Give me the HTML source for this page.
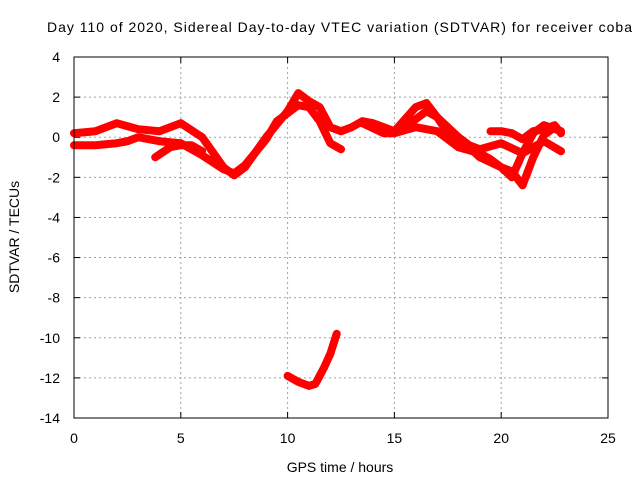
<!DOCTYPE html>
<html><head><meta charset="utf-8"><style>
body{margin:0;background:#fff;font-family:"Liberation Sans",sans-serif}
svg text{font-family:"Liberation Sans",sans-serif;font-size:14px;fill:#000}
</style></head><body>
<svg id="c" width="640" height="480">
<text x="47" y="32" textLength="585" lengthAdjust="spacing">Day 110 of 2020, Sidereal Day-to-day VTEC variation (SDTVAR) for receiver coba</text>
<text x="340" y="472" text-anchor="middle">GPS time / hours</text>
<text transform="translate(19,237) rotate(-90)" text-anchor="middle">SDTVAR / TECUs</text>
<g id="grid"></g><g id="marks"></g>
<rect x="74" y="57" width="534" height="361" fill="none" stroke="#000"/>
</svg>
<script>
const xTicks=[0,5,10,15,20,25];
const yTicks=[4,2,0,-2,-4,-6,-8,-10,-12,-14];
const seriesA=[[0,0.2],[1,0.3],[2,0.7],[3,0.4],[4,0.3],[5,0.7],[6,0],[7,-1.5],[7.5,-1.9],[8,-1.5],[9,0],[10,1.3],[10.5,2.2],[11,1.8],[11.5,1.5],[12,0.5],[12.5,0.3],[13,0.5],[13.5,0.8],[14,0.7],[15,0.3],[16,1.5],[16.5,1.7],[17,1.0],[18,0],[19,-1],[20,-1.5],[20.5,-2],[21,-0.8],[21.5,0.2],[22,0.6],[22.8,0.3]];
const seriesB=[[0,-0.4],[1,-0.4],[2,-0.3],[2.5,-0.2],[3,0],[4,-0.2],[5,-0.3],[5.5,-0.6],[6,-0.9],[7,-1.6],[7.5,-1.8],[8,-1.4],[9,-0.1],[9.5,0.8],[10,1.2],[10.5,1.6],[11,1.5],[11.5,0.8],[12,-0.3],[12.5,-0.6]];
const seriesC=[[3.8,-1],[4.5,-0.5],[5,-0.4],[5.5,-0.4],[6,-0.7]];
const seriesD=[[13.5,0.7],[14.5,0.2],[15,0.2],[16,0.5],[17,0.3],[18,-0.5],[19,-0.8],[19.5,-1.1],[20,-1.5],[20.5,-1.7],[21,-2.4],[21.5,-1],[22,0.1],[22.5,0.5]];
const seriesE=[[15,0.3],[16,0.9],[16.5,1.3],[17,1],[17.5,0.2],[18,0],[18.5,-0.4],[19,-0.6],[20,-0.3],[21,-0.8],[22,-0.2],[22.8,-0.7]];
const seriesF=[[19.5,0.3],[20,0.3],[20.5,0.2],[21,-0.1],[21.5,0.3],[22,0.4],[22.5,0.6],[22.8,0.2]];
const seriesG=[[10,-11.9],[10.5,-12.2],[11,-12.4],[11.3,-12.3],[11.7,-11.5],[12,-10.8],[12.3,-9.8]];
const allSeries=[seriesA,seriesB,seriesC,seriesD,seriesE,seriesF,seriesG];
const NS='http://www.w3.org/2000/svg';
const X=h=>74+(h-0)/25*534, Y=v=>57+(4-v)/18*361;
const grid=document.getElementById('grid'),marks=document.getElementById('marks');
function mk(t,a,p){const e=document.createElementNS(NS,t);for(const k in a)e.setAttribute(k,a[k]);p.appendChild(e);return e;}
xTicks.forEach(t=>{
 if(t>0&&t<25){const l=mk('line',{x1:X(t),x2:X(t),y1:57,y2:418,stroke:'#a0a0a0','stroke-dasharray':'2,3'},grid);
 
 }
 mk('line',{x1:X(t),x2:X(t),y1:418,y2:412,stroke:'#000'},grid);
 mk('line',{x1:X(t),x2:X(t),y1:57,y2:63,stroke:'#000'},grid);
 const s=mk('text',{x:X(t),y:443,'text-anchor':'middle'},grid);s.textContent=t;
 
 
});
yTicks.forEach(t=>{
 if(t<4&&t>-14){const l=mk('line',{x1:74,x2:608,y1:Y(t),y2:Y(t),stroke:'#a0a0a0','stroke-dasharray':'2,3'},grid);
 
 }
 mk('line',{x1:74,x2:80,y1:Y(t),y2:Y(t),stroke:'#000'},grid);
 mk('line',{x1:602,x2:608,y1:Y(t),y2:Y(t),stroke:'#000'},grid);
 const s=mk('text',{x:60,y:Y(t)+5,'text-anchor':'end'},grid);s.textContent=t;
 
 
});
allSeries.forEach((s,i)=>{
 const p=mk('polyline',{points:s.map(d=>X(d[0])+','+Y(d[1])).join(' '),fill:'none',stroke:'#f00','stroke-width':8,'stroke-linejoin':'round','stroke-linecap':'round'},marks);
 
 
});
</script>
</body></html>
